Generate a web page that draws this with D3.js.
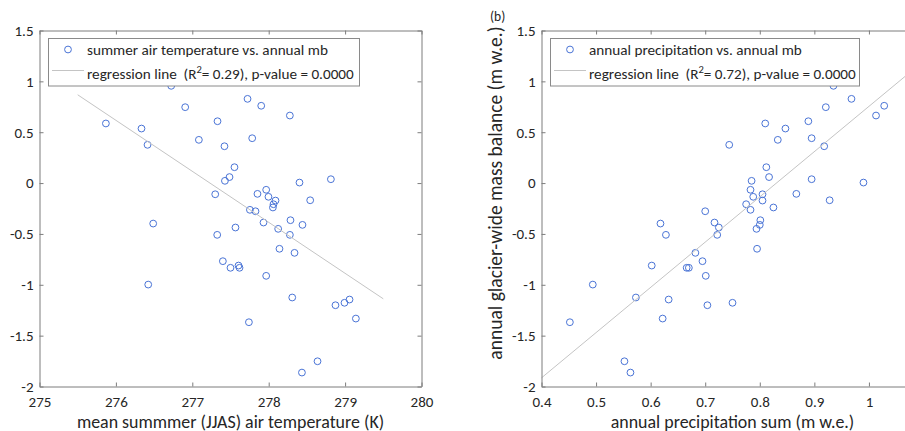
<html>
<head>
<meta charset="utf-8" />
<script src="https://cdnjs.cloudflare.com/ajax/libs/d3/7.8.5/d3.min.js"></script>
<style>
	body { margin: 0; background: #fff; }
	text { font-family: Carlito, Calibri, Lato, sans-serif; fill: #262626; }
</style>
</head>
<body>
<div id="chart"></div>
<script type="text/javascript">

// annual glacier-wide mass balance (m w.e.), same years in both panels
var massBalance = [0.586, 0.536, 0.376, 0.956, 0.746, 0.425, 0.608, 0.362, 0.156, 0.059,
	0.022, -0.110, 0.828, 0.760, 0.441, 0.664, 0.005, 0.038, -0.169, -0.066,
	-0.106, -0.135, -0.172, -0.208, -0.240, -0.263, -0.277, -0.398, -0.388, -0.365,
	-0.411, -0.437, -0.450, -0.509, -0.509, -0.646, -0.686, -0.768, -0.811, -0.833,
	-0.833, -0.912, -0.998, -1.125, -1.145, -1.177, -1.201, -1.332, -1.368, -1.752, -1.863];

// mean JJAS air temperature (K)
var summerTemp = [275.869, 276.335, 276.414, 276.724, 276.907, 277.086, 277.330, 277.421, 277.552, 277.487,
	277.427, 277.300, 277.723, 277.902, 277.784, 278.277, 278.403, 278.814, 278.543, 277.967,
	277.853, 277.997, 278.089, 278.063, 278.055, 277.754, 277.827, 276.488, 277.932, 278.285,
	278.442, 277.565, 278.124, 277.326, 278.277, 278.141, 278.338, 277.400, 277.605, 277.500,
	277.618, 277.967, 276.423, 278.308, 279.058, 278.992, 278.874, 279.141, 277.741, 278.639, 278.435];

// annual precipitation sum (m w.e.)
var annualPrecip = [0.810, 0.847, 0.744, 0.935, 0.921, 0.833, 0.889, 0.918, 0.812, 0.817,
	0.785, 0.805, 0.968, 1.028, 0.895, 1.013, 0.990, 0.895, 0.928, 0.783,
	0.867, 0.788, 0.805, 0.775, 0.825, 0.783, 0.700, 0.618, 0.717, 0.801,
	0.800, 0.725, 0.794, 0.628, 0.722, 0.795, 0.682, 0.695, 0.602, 0.666,
	0.670, 0.701, 0.494, 0.573, 0.633, 0.750, 0.704, 0.622, 0.452, 0.552, 0.563];

// regression line end points
var tempFitX = [275.5, 279.5];
var tempFitY = [0.868, -1.138];
var precipFitX = [0.4, 1.1];
var precipFitY = [-1.915, 1.199];

var yTicks = [-2, -1.5, -1, -0.5, 0, 0.5, 1, 1.5];
var tempTicks = [275, 276, 277, 278, 279, 280];
var precipTicks = [0.4, 0.5, 0.6, 0.7, 0.8, 0.9, 1];

var W = 905, H = 431;
var top_ = 30.5, bottom = 386.5;
var axisColor = "#7d7d7d";
var markColor = "#4a74d6";
var fitColor = "#c4c4c4";

var svg = d3.select("#chart").append("svg")
	.attr("width", W)
	.attr("height", H);

function drawPanel(p){

	var x = d3.scaleLinear().domain(p.xDomain).range([p.left, p.right]);
	var y = d3.scaleLinear().domain([-2, 1.5]).range([bottom, top_]);
	var g = svg.append("g");

	// points
	g.selectAll("circle.pt")
		.data(d3.range(massBalance.length))
		.enter()
		.append("circle")
		.attr("class", "pt")
		.attr("cx", function(i){ return x(p.xs[i]); })
		.attr("cy", function(i){ return y(massBalance[i]); })
		.attr("r", 3.4)
		.attr("fill", "none")
		.attr("stroke", markColor)
		.attr("stroke-width", 1);

	// regression line
	g.append("line")
		.attr("x1", x(p.fitX[0])).attr("y1", y(p.fitY[0]))
		.attr("x2", x(p.fitX[1])).attr("y2", y(p.fitY[1]))
		.attr("stroke", fitColor)
		.attr("stroke-width", 1);

	// axes, ticks inward on all four sides
	var fmt = function(d){ return String(d); };
	var ax = [
		g.append("g").attr("transform", "translate(0," + bottom + ")")
			.call(d3.axisBottom(x).tickValues(p.xTicks).tickSizeInner(-4).tickSizeOuter(0).tickPadding(9.5).tickFormat(fmt)),
		g.append("g").attr("transform", "translate(0," + top_ + ")")
			.call(d3.axisTop(x).tickValues(p.xTicks).tickSizeInner(-4).tickSizeOuter(0).tickFormat("")),
		g.append("g").attr("transform", "translate(" + p.left + ",0)")
			.call(d3.axisLeft(y).tickValues(yTicks).tickSizeInner(-4).tickSizeOuter(0).tickPadding(6).tickFormat(fmt)),
		g.append("g").attr("transform", "translate(" + p.right + ",0)")
			.call(d3.axisRight(y).tickValues(yTicks).tickSizeInner(-4).tickSizeOuter(0).tickFormat(""))
	];
	ax.forEach(function(a){
		a.select(".domain").attr("stroke", axisColor);
		a.selectAll(".tick line").attr("stroke", axisColor);
		a.selectAll(".tick text").style("font-size", "15px").attr("fill", "#262626");
	});

	// x label
	g.append("text")
		.attr("x", (p.left + p.right) / 2)
		.attr("y", 427.5)
		.attr("text-anchor", "middle")
		.style("font-size", "17.9px")
		.text(p.xLabel);

	// legend
	var lg = g.append("g");
	lg.append("rect")
		.attr("x", p.legX + 0.5).attr("y", 38.5)
		.attr("width", p.legW).attr("height", 47.5)
		.attr("fill", "#fff")
		.attr("stroke", "#8a8a8a");
	lg.append("circle")
		.attr("cx", p.legX + 20).attr("cy", 49.5).attr("r", 3.4)
		.attr("fill", "none").attr("stroke", markColor);
	lg.append("line")
		.attr("x1", p.legX + 4).attr("x2", p.legX + 36)
		.attr("y1", 70.5).attr("y2", 70.5)
		.attr("stroke", fitColor);
	lg.append("text")
		.attr("x", p.legX + 39).attr("y", 54.5)
		.style("font-size", "15.2px")
		.text(p.legend);
	var t = lg.append("text")
		.attr("x", p.legX + 39).attr("y", 78.5)
		.style("font-size", "15.2px")
		.style("white-space", "pre");
	t.append("tspan").text("regression line  (R");
	t.append("tspan").attr("dy", -6).style("font-size", "10.5px").text("2");
	t.append("tspan").attr("dy", 6).text("= " + p.r2 + "), p-value = 0.0000");
}

drawPanel({
	xs: summerTemp, xDomain: [275, 280], xTicks: tempTicks,
	left: 39.5, right: 421.5,
	fitX: tempFitX, fitY: tempFitY,
	xLabel: "mean summmer (JJAS) air temperature (K)",
	legend: "summer air temperature vs. annual mb", r2: "0.29",
	legX: 48, legW: 311
});

drawPanel({
	xs: annualPrecip, xDomain: [0.4, 1.1], xTicks: precipTicks,
	left: 541.5, right: 923.5,
	fitX: precipFitX, fitY: precipFitY,
	xLabel: "annual precipitation sum (m w.e.)",
	legend: "annual precipitation vs. annual mb", r2: "0.72",
	legX: 550, legW: 309
});

// y label of right panel
svg.append("text")
	.attr("transform", "translate(502,193) rotate(-90)")
	.attr("text-anchor", "middle")
	.style("font-size", "19.5px")
	.text("annual glacier-wide mass balance (m w.e.)");

svg.append("text")
	.attr("x", 490).attr("y", 21)
	.style("font-size", "13.5px")
	.text("(b)");

</script>
</body>
</html>
